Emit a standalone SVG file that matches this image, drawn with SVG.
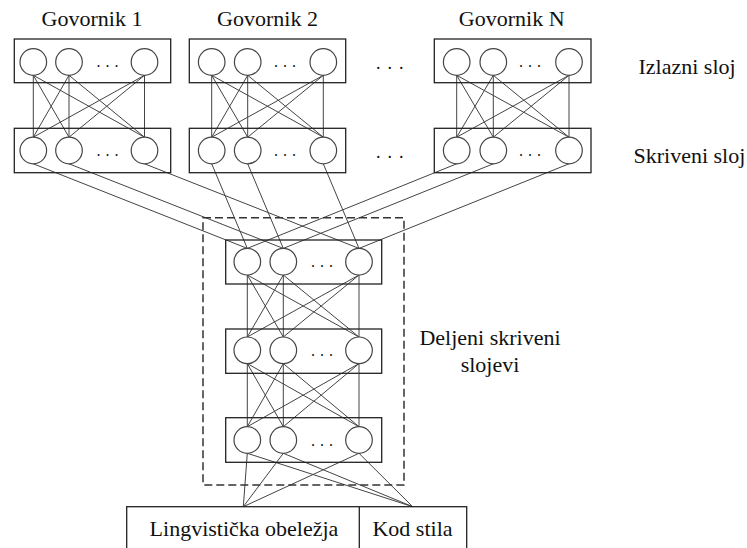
<svg xmlns="http://www.w3.org/2000/svg" width="747" height="548" viewBox="0 0 747 548">
<style>
.t{font-family:"Liberation Serif",Tinos,"Times New Roman",Times,"Noto Serif","DejaVu Serif",serif;font-size:22px;fill:#111}
.box{fill:none;stroke:#222;stroke-width:1.3}
.n{fill:#fff;stroke:#444;stroke-width:1.2}
.c{stroke:#444;stroke-width:1;fill:none}
.dots{font-family:"Liberation Serif",Tinos,"Times New Roman",serif;font-size:16px;fill:#111;letter-spacing:5px}
.bdots{font-family:"Liberation Serif",Tinos,"Times New Roman",serif;font-size:18px;fill:#111;letter-spacing:7px}
.dash{fill:none;stroke:#333;stroke-width:1.5;stroke-dasharray:8 4}
</style>
<rect width="747" height="548" fill="#fff"/>
<g id="connectors">
<path class="c" d="M33.3 75.3L33.3 137.2M33.3 75.3L69 137.2M33.3 75.3L144.5 137.2M69 75.3L33.3 137.2M69 75.3L69 137.2M69 75.3L144.5 137.2M144.5 75.3L33.3 137.2M144.5 75.3L69 137.2M144.5 75.3L144.5 137.2"/>
<path class="c" d="M211.7 75.3L211.7 137.2M211.7 75.3L247.7 137.2M211.7 75.3L323.3 137.2M247.7 75.3L211.7 137.2M247.7 75.3L247.7 137.2M247.7 75.3L323.3 137.2M323.3 75.3L211.7 137.2M323.3 75.3L247.7 137.2M323.3 75.3L323.3 137.2"/>
<path class="c" d="M456.7 75.3L456.7 137.2M456.7 75.3L493.3 137.2M456.7 75.3L569 137.2M493.3 75.3L456.7 137.2M493.3 75.3L493.3 137.2M493.3 75.3L569 137.2M569 75.3L456.7 137.2M569 75.3L493.3 137.2M569 75.3L569 137.2"/>
<path class="c" d="M33.3 163.8L247.3 248.4M69 163.8L283.3 248.4M144.5 163.8L359 248.4M211.7 163.8L247.3 248.4M247.7 163.8L283.3 248.4M323.3 163.8L359 248.4M456.7 163.8L247.3 248.4M493.3 163.8L283.3 248.4M569 163.8L359 248.4"/>
<path class="c" d="M247.3 275L247.3 337M247.3 275L283.3 337M247.3 275L359 337M283.3 275L247.3 337M283.3 275L283.3 337M283.3 275L359 337M359 275L247.3 337M359 275L283.3 337M359 275L359 337"/>
<path class="c" d="M247.3 363.6L247.3 426.7M247.3 363.6L283.3 426.7M247.3 363.6L359 426.7M283.3 363.6L247.3 426.7M283.3 363.6L283.3 426.7M283.3 363.6L359 426.7M359 363.6L247.3 426.7M359 363.6L283.3 426.7M359 363.6L359 426.7"/>
<path class="c" d="M247.3 453.3L243.3 506.7M283.3 453.3L243.3 506.7M359 453.3L243.3 506.7M247.3 453.3L412.7 506.7M283.3 453.3L412.7 506.7M359 453.3L412.7 506.7"/>
</g>
<g id="govornik1">
<text class="t" x="92" y="25.5" text-anchor="middle">Govornik 1</text>
<rect class="box" x="14.3" y="39" width="156.4" height="43.7"/>
<circle class="n" cx="33.3" cy="62" r="13.3"/><circle class="n" cx="69" cy="62" r="13.3"/><circle class="n" cx="144.5" cy="62" r="13.3"/>
<text class="dots" x="96.5" y="67">...</text>
<rect class="box" x="14.3" y="128.3" width="156.4" height="44.4"/>
<circle class="n" cx="33.3" cy="150.5" r="13.3"/><circle class="n" cx="69" cy="150.5" r="13.3"/><circle class="n" cx="144.5" cy="150.5" r="13.3"/>
<text class="dots" x="96.5" y="156">...</text>
</g>
<g id="govornik2">
<text class="t" x="267.5" y="25.5" text-anchor="middle">Govornik 2</text>
<rect class="box" x="189.3" y="39" width="156.4" height="43.7"/>
<circle class="n" cx="211.7" cy="62" r="13.3"/><circle class="n" cx="247.7" cy="62" r="13.3"/><circle class="n" cx="323.3" cy="62" r="13.3"/>
<text class="dots" x="274" y="67">...</text>
<rect class="box" x="189.3" y="128.3" width="156.4" height="44.4"/>
<circle class="n" cx="211.7" cy="150.5" r="13.3"/><circle class="n" cx="247.7" cy="150.5" r="13.3"/><circle class="n" cx="323.3" cy="150.5" r="13.3"/>
<text class="dots" x="274" y="156">...</text>
</g>
<g id="between-dots">
<text class="bdots" x="376" y="69">...</text>
<text class="bdots" x="376" y="158">...</text>
</g>
<g id="govornikN">
<text class="t" x="511.7" y="25.5" text-anchor="middle">Govornik N</text>
<rect class="box" x="434.3" y="39" width="156.7" height="43.7"/>
<circle class="n" cx="456.7" cy="62" r="13.3"/><circle class="n" cx="493.3" cy="62" r="13.3"/><circle class="n" cx="569" cy="62" r="13.3"/>
<text class="dots" x="519" y="67">...</text>
<rect class="box" x="434.3" y="128.3" width="156.7" height="44.4"/>
<circle class="n" cx="456.7" cy="150.5" r="13.3"/><circle class="n" cx="493.3" cy="150.5" r="13.3"/><circle class="n" cx="569" cy="150.5" r="13.3"/>
<text class="dots" x="519" y="156">...</text>
</g>
<g id="layer-labels">
<text class="t" x="638.5" y="74">Izlazni sloj</text>
<text class="t" x="633.5" y="163">Skriveni sloj</text>
</g>
<g id="shared">
<rect class="dash" x="203" y="217.7" width="201" height="267.3"/>
<rect class="box" x="225.7" y="240" width="156" height="44"/>
<circle class="n" cx="247.3" cy="261.7" r="13.3"/><circle class="n" cx="283.3" cy="261.7" r="13.3"/><circle class="n" cx="359" cy="261.7" r="13.3"/>
<text class="dots" x="311" y="267">...</text>
<rect class="box" x="225.7" y="329" width="156" height="44.3"/>
<circle class="n" cx="247.3" cy="350.3" r="13.3"/><circle class="n" cx="283.3" cy="350.3" r="13.3"/><circle class="n" cx="359" cy="350.3" r="13.3"/>
<text class="dots" x="311" y="356">...</text>
<rect class="box" x="225.7" y="417.7" width="156" height="44.6"/>
<circle class="n" cx="247.3" cy="440" r="13.3"/><circle class="n" cx="283.3" cy="440" r="13.3"/><circle class="n" cx="359" cy="440" r="13.3"/>
<text class="dots" x="311" y="446">...</text>
<text class="t" x="490" y="345" text-anchor="middle">Deljeni skriveni</text>
<text class="t" x="490" y="371.5" text-anchor="middle">slojevi</text>
</g>
<g id="inputs">
<rect class="box" x="126.7" y="506.7" width="340" height="60"/>
<line class="box" x1="359.3" y1="506.7" x2="359.3" y2="560"/>
<text class="t" x="244" y="535.5" text-anchor="middle">Lingvistička obeležja</text>
<text class="t" x="412.5" y="535.5" text-anchor="middle">Kod stila</text>
</g>
</svg>
